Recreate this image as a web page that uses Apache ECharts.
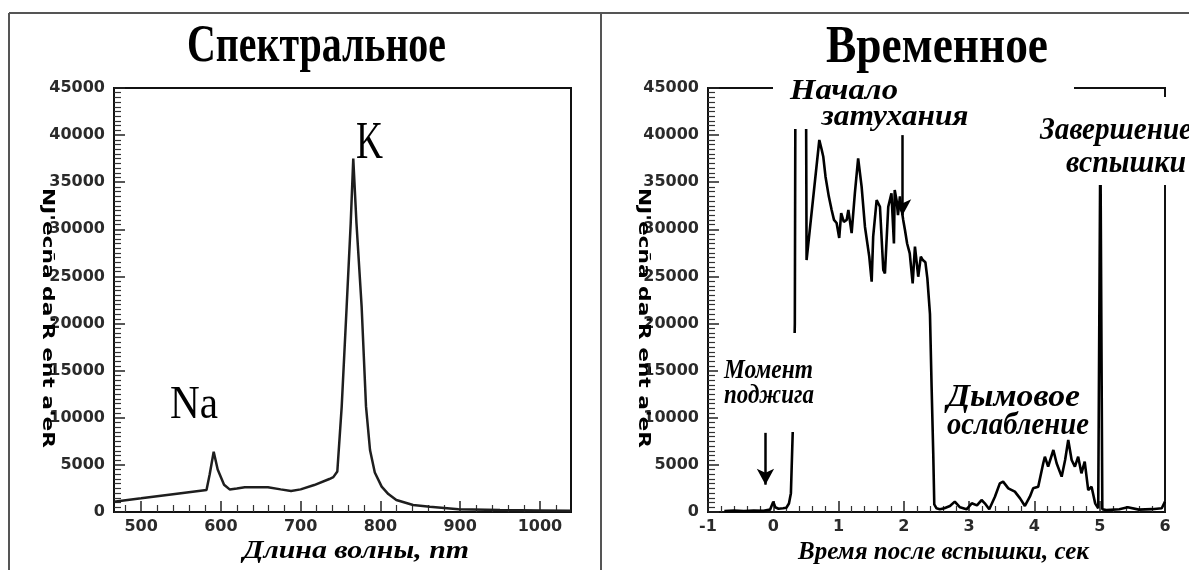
<!DOCTYPE html>
<html><head><meta charset="utf-8">
<script src="https://cdn.jsdelivr.net/npm/echarts@6/dist/echarts.min.js"></script>
<style>html,body{margin:0;padding:0;background:#fff}#c{width:1189px;height:570px}</style>
</head><body><div id="c"></div>
<script>
// ---- Spectral panel data ----
const wavelengths = [466, 500, 540, 582, 586, 591, 596, 604, 611, 620, 630, 659, 675, 688, 700, 717, 736, 741, 746, 751.5, 757.7, 762.8, 766, 770, 776.5, 782, 787, 793, 801.6, 810, 820, 841, 862, 898, 950, 1000, 1039];
const spectralIntensity = [1100, 1450, 1880, 2330, 4000, 6400, 4500, 2900, 2400, 2500, 2620, 2620, 2400, 2230, 2400, 2860, 3500, 3700, 4300, 11180, 21790, 30670, 37500, 30670, 21790, 11180, 6580, 4200, 2690, 1900, 1270, 740, 560, 280, 200, 150, 120];
const spectralTickLabels = [500, 600, 700, 800, 900, 1000];
const spectralMinorTicks = [480, 520, 540, 560, 580, 620, 640, 660, 680, 720, 740, 760, 780, 820, 840, 860, 880, 920, 940, 960, 980, 1020];

// ---- Temporal panel data ----
const timeSec = [-0.75, -0.6, -0.45, -0.3, -0.15, -0.05, 0.0, 0.03, 0.08, 0.15, 0.2, 0.24, 0.27, 0.30, 0.33, 0.34, 0.50, 0.51,
  0.705, 0.74, 0.766, 0.80, 0.85, 0.894, 0.93, 0.97, 1.01, 1.04, 1.08, 1.124, 1.15, 1.20, 1.25, 1.30, 1.353, 1.404, 1.47, 1.507, 1.53,
  1.583, 1.634, 1.685, 1.71, 1.761, 1.81, 1.848, 1.86, 1.89, 1.91, 1.94, 1.96, 1.99, 2.017, 2.05, 2.09, 2.135, 2.17, 2.22, 2.26, 2.29,
  2.33, 2.36, 2.40, 2.425, 2.45, 2.466, 2.50, 2.55, 2.62, 2.706, 2.78, 2.86, 2.96, 3.04, 3.12, 3.19, 3.24, 3.308, 3.395, 3.47, 3.52,
  3.60, 3.70, 3.78, 3.854, 3.93, 3.98, 4.058, 4.135, 4.16, 4.21, 4.29, 4.34, 4.417, 4.47, 4.518, 4.57, 4.62, 4.67, 4.72, 4.77, 4.824,
  4.875, 4.93, 4.977, 5.0, 5.01, 5.03, 5.04, 5.1, 5.3, 5.43, 5.6, 5.8, 5.95, 6.0];
const temporalIntensity = [100, 150, 100, 150, 120, 250, 1100, 500, 350, 400, 450, 900, 2000, 9000, 20000, 48000, 48000, 26740,
  39480, 38500, 37700, 35590, 33500, 32050, 31000, 30670, 29080, 31730, 30800, 31000, 32050, 29600, 33860, 37540, 34530, 30280, 27100, 24440, 29220,
  33110, 32400, 25680, 25330, 32400, 33820, 28510, 34170, 33000, 31500, 33500, 32400, 31000, 29930, 28500, 27450, 24270, 28160, 24970, 27100, 26740,
  26500, 24800, 21000, 13300, 6260, 800, 390, 300, 400, 640, 1100, 500, 290, 920, 700, 1270, 920, 290, 1620, 3040, 3220,
  2510, 2160, 1450, 640, 1620, 2510, 2690, 5170, 5870, 4810, 6580, 5170, 3750, 5520, 7640, 5520, 4810, 5870, 4110, 5340, 2330,
  2690, 920, 390, 500, 40000, 40000, 300, 200, 290, 500, 250, 300, 400, 1100];

// annotation arrows (data coordinates)
const ignitionArrow = [[-0.12, 8400], [-0.12, 2900]];
const decayArrow = [[1.98, 40000], [1.98, 31500]];

const yMin = 0, yMax = 45000, yStep = 5000;

const spectralData = wavelengths.map((w, i) => [w, spectralIntensity[i]]);
const temporalData = timeSec.map((t, i) => [t, temporalIntensity[i]]);

const ctx = document.createElement('canvas').getContext('2d');
function fit(text, font, w) { ctx.font = font; return w / ctx.measureText(text).width; }
function T(text, x, y, font, w, align, extra) {
  return Object.assign({
    type: 'text', x: x, y: y, z: 120, scaleX: fit(text, font, w),
    style: { text: text, font: font, fill: '#000', textAlign: align || 'left', textVerticalAlign: 'middle' }
  }, extra || {});
}
function R(x, y, w, h) {
  return { type: 'rect', z: 110, shape: { x: x, y: y, width: w, height: h }, style: { fill: '#fff' } };
}
function L(x1, y1, x2, y2) {
  return { type: 'line', z: 130, shape: { x1: x1, y1: y1, x2: x2, y2: y2 }, style: { stroke: '#555', lineWidth: 2 } };
}

const tickFont = { fontFamily: 'DejaVu Sans', fontWeight: 'bold', fontSize: 16, color: '#2a2a2a' };
const serifBold = 'bold 52px "Liberation Serif"';
const serifBI = (s) => 'italic bold ' + s + 'px "Liberation Serif"';
const yName = "NJ'ecña da'R eñt a'eR";
const yNameFont = 'bold 15px "DejaVu Sans"';

function yAxisCfg(g) {
  return {
    gridIndex: g, type: 'value', min: yMin, max: yMax, interval: yStep, position: 'left',
    axisLine: { show: true, onZero: false, lineStyle: { color: '#111', width: 2 } },
    axisTick: { show: true, inside: true, length: 11, lineStyle: { color: '#222', width: 1.5 } },
    minorTick: { show: true, splitNumber: 10, length: 7, lineStyle: { color: '#333', width: 1.2 } },
    axisLabel: Object.assign({ margin: 9, formatter: v => String(v) }, tickFont),
    splitLine: { show: false }
  };
}

const chart = echarts.init(document.getElementById('c'));
chart.setOption({
  animation: false,
  backgroundColor: '#fff',
  grid: [
    { left: 114, top: 88, width: 457, height: 424, show: true, borderColor: '#111', borderWidth: 2 },
    { left: 708, top: 88, width: 457, height: 424, show: true, borderColor: '#111', borderWidth: 2 }
  ],
  xAxis: [
    {
      gridIndex: 0, type: 'value', min: 466, max: 1039, position: 'bottom',
      axisLine: { onZero: false, lineStyle: { color: '#111', width: 2 } },
      axisTick: { inside: true, length: 11, customValues: spectralTickLabels, lineStyle: { color: '#222', width: 1.5 } },
      axisLabel: Object.assign({ margin: 7, customValues: spectralTickLabels, formatter: v => String(v) }, tickFont),
      splitLine: { show: false }
    },
    {
      gridIndex: 0, type: 'value', min: 466, max: 1039, position: 'bottom', offset: 0,
      axisLine: { show: false, onZero: false },
      axisTick: { inside: true, length: 7, customValues: spectralMinorTicks, lineStyle: { color: '#333', width: 1.2 } },
      axisLabel: { show: false },
      splitLine: { show: false }
    },
    {
      gridIndex: 1, type: 'value', min: -1, max: 6, interval: 1, position: 'bottom',
      axisLine: { onZero: false, lineStyle: { color: '#111', width: 2 } },
      axisTick: { inside: true, length: 11, lineStyle: { color: '#222', width: 1.5 } },
      minorTick: { show: true, splitNumber: 5, length: 6, lineStyle: { color: '#333', width: 1.2 } },
      axisLabel: Object.assign({ margin: 7, formatter: v => String(v) }, tickFont),
      splitLine: { show: false }
    }
  ],
  yAxis: [yAxisCfg(0), yAxisCfg(1)],
  series: [
    {
      type: 'line', xAxisIndex: 0, yAxisIndex: 0, data: spectralData, showSymbol: false, symbol: 'none',
      lineStyle: { color: '#1e1e1e', width: 2.5 }, silent: true
    },
    {
      type: 'line', xAxisIndex: 2, yAxisIndex: 1, data: temporalData, showSymbol: false, symbol: 'none',
      lineStyle: { color: '#000', width: 2.6 }, silent: true,
      markLine: {
        silent: true, symbol: ['none', 'arrow'], symbolSize: [13, 16],
        lineStyle: { color: '#000', width: 2.5, type: 'solid' }, label: { show: false },
        data: [
          [{ coord: ignitionArrow[0] }, { coord: ignitionArrow[1] }],
          [{ coord: decayArrow[0] }, { coord: decayArrow[1] }]
        ]
      }
    }
  ],
  graphic: [
    // panel frame
    L(9, 13, 1189, 13), L(9, 13, 9, 570), L(601, 13, 601, 570),
    // white boxes behind annotations
    R(773, 68, 301, 61),
    R(1035, 97, 160, 88),
    R(718, 333, 100, 99),
    // titles
    T('Спектральное', 316.5, 48, serifBold, 259, 'center'),
    T('Временное', 937, 49, serifBold, 222, 'center'),
    // peak labels
    T('K', 369.5, 144, '53px "Liberation Serif"', 27, 'center'),
    T('Na', 194, 406, '46px "Liberation Serif"', 48, 'center'),
    // axis titles
    T('Длина волны, nm', 356, 551, serifBI(26), 226, 'center'),
    T('Время после вспышки, сек', 943.5, 552, serifBI(26), 291, 'center'),
    // y axis names
    T(yName, 47, 318, yNameFont, 260, 'center', { rotation: -Math.PI / 2 }),
    T(yName, 643, 318, yNameFont, 260, 'center', { rotation: -Math.PI / 2 }),
    // annotations
    T('Начало', 790, 91, serifBI(30), 108),
    T('затухания', 821.5, 117, serifBI(30), 147),
    T('Завершение', 1040, 131, serifBI(31), 152),
    T('вспышки', 1066, 164, serifBI(31), 120),
    T('Момент', 724, 371, serifBI(28), 89),
    T('поджига', 724, 396, serifBI(28), 90),
    T('Дымовое', 947, 398, serifBI(32), 133),
    T('ослабление', 947, 426, serifBI(32), 142)
  ]
});
</script></body></html>
